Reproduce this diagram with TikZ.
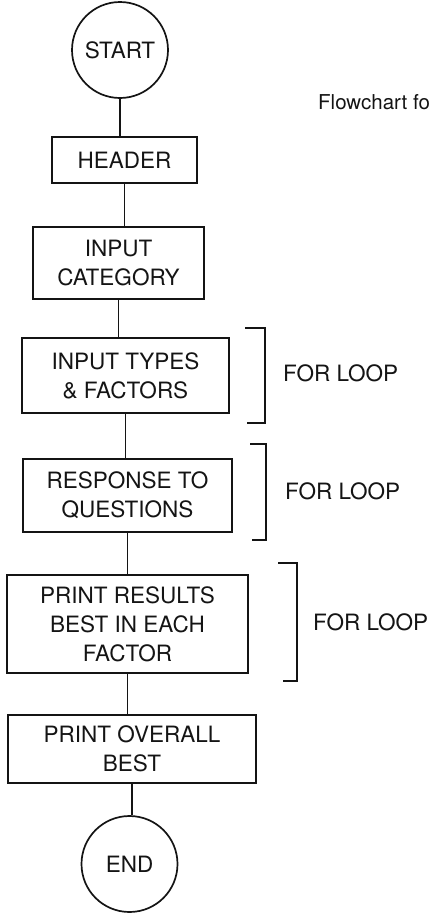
\documentclass[tikz,border=0pt]{standalone}
\usepackage{fontspec}
\setmainfont{TeX Gyre Heros}
\usepackage{tikz}
\definecolor{inkblack}{RGB}{20, 20, 20}

\begin{document}
\begin{tikzpicture}[
        x=1pt, y=-1pt,
        terminal/.style={circle, draw=inkblack, line width=1.7pt, minimum size=96pt, inner sep=0pt, text=inkblack, font=\fontsize{22.5}{29}\selectfont},
        stepbox/.style={rectangle, draw=inkblack, line width=1.7pt, inner sep=0pt, align=center, text=inkblack, font=\fontsize{22.5}{29}\selectfont},
        link/.style={line width=1.7pt, color=inkblack},
        loopmark/.style={line width=1.7pt, color=inkblack},
        looptext/.style={text=inkblack, font=\fontsize{22.5}{29}\selectfont}
    ]
    \useasboundingbox (0, 0) rectangle (431, 916);

    % Terminals
    \node[terminal] (start) at (120, 50) {START};
    \node[terminal] (finish) at (129.5, 864) {END};

    % Steps
    \node[stepbox, minimum width=145pt, minimum height=46pt] (header) at (124.5, 160) {HEADER};
    \node[stepbox, minimum width=171pt, minimum height=72pt] (category) at (118.5, 263) {INPUT\\ CATEGORY};
    \node[stepbox, minimum width=207pt, minimum height=75pt] (types) at (125.5, 375.5) {INPUT TYPES\\ \& FACTORS};
    \node[stepbox, minimum width=209pt, minimum height=73pt] (response) at (127.5, 495.5) {RESPONSE TO\\ QUESTIONS};
    \node[stepbox, minimum width=241pt, minimum height=98pt] (results) at (127.5, 624) {PRINT RESULTS\\ BEST IN EACH\\ FACTOR};
    \node[stepbox, minimum width=248pt, minimum height=68pt] (overall) at (132, 749) {PRINT OVERALL\\ BEST};

    % Caption (cut off at the edge)
    \node[text=inkblack, font=\fontsize{20.5}{24}\selectfont, anchor=west, inner sep=0pt] (caption) at (318, 102) {Flowchart fo};

    % Connectors
    \draw[link] (start) -- (start |- header.north);
    \draw[link] (header) -- (header |- category.north);
    \draw[link] (category) -- (category |- types.north);
    \draw[link] (types) -- (types |- response.north);
    \draw[link] (response) -- (response |- results.north);
    \draw[link] (results) -- (results |- overall.north);
    \draw[link] (overall) -- (overall |- finish.north);

    % Loop brackets
    \draw[loopmark] (245, 328) -- (265, 328) -- (265, 423) -- (247, 423);
    \node[looptext, anchor=west, inner sep=0pt] (loopa) at (283, 373) {FOR LOOP};

    \draw[loopmark] (250, 444) -- (266, 444) -- (266, 540) -- (252, 540);
    \node[looptext, anchor=west, inner sep=0pt] (loopb) at (285, 491) {FOR LOOP};

    \draw[loopmark] (278, 563) -- (297, 563) -- (297, 681) -- (283, 681);
    \node[looptext, anchor=west, inner sep=0pt] (loopc) at (313, 622) {FOR LOOP};

    \end{tikzpicture}
\end{document}
